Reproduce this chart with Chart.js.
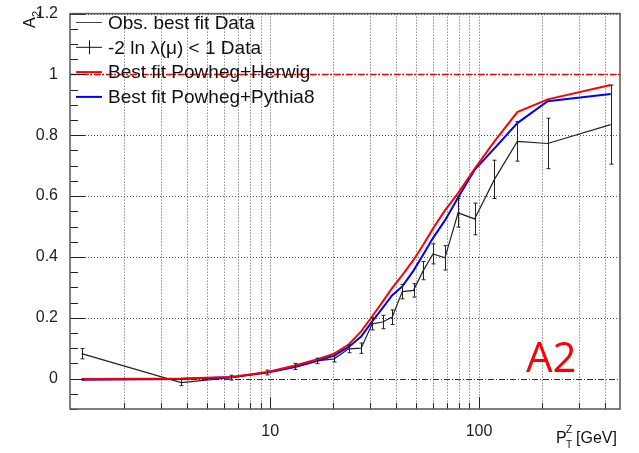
<!DOCTYPE html>
<html>
<head>
<meta charset="utf-8">
<script src="https://cdn.jsdelivr.net/npm/chart.js@4.4.1/dist/chart.umd.min.js"></script>
<style>
  html, body { margin: 0; padding: 0; background: #fff; }
  #wrap { width: 639px; height: 453px; }
</style>
</head>
<body>
<div id="wrap"><canvas id="c" width="639" height="453"></canvas></div>
<script>
// bin centres in pT(Z) [GeV]
const ptCenters = [1.25, 3.75, 6.5, 9.7, 13.15, 16.7, 20.25, 23.75, 27.25, 30.8, 34.5,
  38.4, 42.9, 48.55, 54.05, 60.15, 68.65, 79.4, 95.2, 118.5, 152.5, 213, 426.5];

const obsValues = [0.082, -0.013, 0.003, 0.02, 0.04, 0.058, 0.065, 0.098, 0.1, 0.18, 0.186,
  0.202, 0.286, 0.29, 0.355, 0.41, 0.397, 0.545, 0.525, 0.655, 0.78, 0.773, 0.835];
const obsErrors = [0.017, 0.01, 0.008, 0.008, 0.01, 0.009, 0.01, 0.013, 0.017, 0.02, 0.022,
  0.024, 0.024, 0.022, 0.03, 0.033, 0.04, 0.047, 0.052, 0.063, 0.065, 0.083, 0.13];

const herwigValues = [-0.001, 0.0, 0.005, 0.022, 0.043, 0.063, 0.082, 0.112, 0.155, 0.205, 0.252,
  0.298, 0.34, 0.39, 0.44, 0.493, 0.553, 0.61, 0.69, 0.78, 0.876, 0.918, 0.965];
const pythiaValues = [-0.004, -0.001, 0.004, 0.02, 0.038, 0.058, 0.076, 0.104, 0.138, 0.188, 0.232,
  0.274, 0.303, 0.355, 0.408, 0.462, 0.52, 0.595, 0.686, 0.757, 0.84, 0.912, 0.936];

const xTickValues = [2, 3, 4, 5, 6, 7, 8, 9, 10, 20, 30, 40, 50, 60, 70, 80, 90, 100, 200, 300, 400];
const xLabelValues = [10, 100];
const yTickValues = [0, 0.2, 0.4, 0.6, 0.8, 1, 1.2];

const legendItems = [
  { text: 'Obs. best fit Data', color: '#444', width: 1, bar: false },
  { text: '-2 ln \u03bb(\u03bc) < 1 Data', color: '#111', width: 1, bar: true },
  { text: 'Best fit Powheg+Herwig', color: '#ff0000', width: 2, bar: false },
  { text: 'Best fit Powheg+Pythia8', color: '#0000ff', width: 2, bar: false },
];

const FONT = '"Liberation Sans", Arial, Helvetica, sans-serif';
const toPts = (ys) => ptCenters.map((x, i) => ({ x, y: ys[i] }));

const rootStyle = {
  id: 'rootStyle',
  beforeDatasetsDraw(chart) {
    const { ctx, chartArea: a, scales: { x, y } } = chart;
    ctx.save();
    // dotted grid
    ctx.strokeStyle = '#555';
    ctx.lineWidth = 1;
    ctx.setLineDash([1, 2]);
    ctx.beginPath();
    xTickValues.forEach(v => {
      const px = Math.round(x.getPixelForValue(v)) + 0.5;
      ctx.moveTo(px, a.top); ctx.lineTo(px, a.bottom);
    });
    yTickValues.forEach(v => {
      if (v === 0) return;
      const py = Math.round(y.getPixelForValue(v)) + 0.5;
      ctx.moveTo(a.left, py); ctx.lineTo(a.right, py);
    });
    ctx.stroke();
    // y = 0 reference line
    ctx.strokeStyle = '#333';
    ctx.setLineDash([6, 2, 1, 2]);
    const y0 = Math.round(y.getPixelForValue(0)) + 0.5;
    ctx.beginPath();
    ctx.moveTo(a.left, y0); ctx.lineTo(a.right, y0);
    ctx.stroke();
    ctx.restore();
  },
  afterDatasetsDraw(chart) {
    const { ctx, chartArea: a, scales: { x, y } } = chart;
    ctx.save();
    // error bars
    ctx.strokeStyle = '#222';
    ctx.lineWidth = 1;
    ptCenters.forEach((pt, i) => {
      const px = Math.round(x.getPixelForValue(pt)) + 0.5;
      const top = y.getPixelForValue(obsValues[i] + obsErrors[i]);
      const bot = y.getPixelForValue(obsValues[i] - obsErrors[i]);
      ctx.beginPath();
      ctx.moveTo(px, top); ctx.lineTo(px, bot);
      ctx.moveTo(px - 2, top); ctx.lineTo(px + 2, top);
      ctx.moveTo(px - 2, bot); ctx.lineTo(px + 2, bot);
      ctx.stroke();
    });
    // y = 1 reference line
    ctx.strokeStyle = '#ff0000';
    ctx.lineWidth = 1.5;
    ctx.setLineDash([6, 2, 2, 2]);
    const y1 = Math.round(y.getPixelForValue(1)) + 0.5;
    ctx.beginPath();
    ctx.moveTo(a.left, y1); ctx.lineTo(a.right, y1);
    ctx.stroke();
    ctx.setLineDash([]);

    // inside ticks
    ctx.strokeStyle = '#222';
    ctx.lineWidth = 1;
    ctx.beginPath();
    for (let v = -0.1; v <= 1.2001; v += 0.05) {
      const py = Math.round(y.getPixelForValue(v)) + 0.5;
      const major = Math.abs(Math.round(v * 5) - v * 5) < 1e-6;
      ctx.moveTo(a.left, py); ctx.lineTo(a.left + (major ? 15 : 8), py);
    }
    xTickValues.forEach(v => {
      const px = Math.round(x.getPixelForValue(v)) + 0.5;
      const major = xLabelValues.includes(v);
      ctx.moveTo(px, a.bottom); ctx.lineTo(px, a.bottom - (major ? 12 : 6));
    });
    ctx.stroke();

    // frame
    ctx.strokeStyle = '#555';
    ctx.lineWidth = 1.5;
    ctx.strokeRect(a.left, a.top, a.right - a.left, a.bottom - a.top);
    ctx.restore();
  },
  afterDraw(chart) {
    const { ctx } = chart;
    ctx.save();
    // legend
    ctx.font = '19px ' + FONT;
    ctx.textBaseline = 'middle';
    legendItems.forEach((it, i) => {
      const ry = 22.5 + i * 24.8;
      ctx.strokeStyle = it.color;
      ctx.lineWidth = it.width;
      ctx.beginPath();
      ctx.moveTo(76, ry); ctx.lineTo(102, ry);
      if (it.bar) { ctx.moveTo(89.5, ry - 7); ctx.lineTo(89.5, ry + 7); }
      ctx.stroke();
      ctx.fillStyle = '#111';
      ctx.fillText(it.text, 108, ry + 1);
    });

    // big label
    ctx.fillStyle = '#ff0000';
    ctx.font = '42px "Open Sans", ' + FONT;
    ctx.textBaseline = 'alphabetic';
    ctx.fillText('A2', 526, 372);

    // y title: A_2 (rotated)
    ctx.fillStyle = '#111';
    ctx.translate(35, 28);
    ctx.rotate(-Math.PI / 2);
    ctx.font = '16px ' + FONT;
    ctx.fillText('A', 0, 0);
    ctx.font = '11px ' + FONT;
    ctx.fillText('2', 11, 5);
    ctx.setTransform(1, 0, 0, 1, 0, 0);

    // x title: P_T^Z [GeV]
    ctx.font = '16px ' + FONT;
    ctx.fillText('P', 556, 443);
    ctx.font = '10px ' + FONT;
    ctx.fillText('Z', 566, 433);
    ctx.fillText('T', 566, 448);
    ctx.font = '16px ' + FONT;
    ctx.fillText('[GeV]', 576, 443);
    ctx.restore();
  },
};

new Chart(document.getElementById('c').getContext('2d'), {
  type: 'line',
  data: {
    datasets: [
      { label: 'Best fit Powheg+Herwig', data: toPts(herwigValues), borderColor: '#ff0000', borderWidth: 2 },
      { label: 'Best fit Powheg+Pythia8', data: toPts(pythiaValues), borderColor: '#0000ff', borderWidth: 2 },
      { label: 'Obs. best fit Data', data: toPts(obsValues), borderColor: '#222', borderWidth: 1.2 },
    ],
  },
  options: {
    responsive: false,
    animation: false,
    events: [],
    elements: { point: { radius: 0 }, line: { tension: 0, fill: false } },
    layout: { padding: { top: 11, right: 19, left: 0, bottom: 0 } },
    plugins: { legend: { display: false }, tooltip: { enabled: false } },
    scales: {
      x: {
        type: 'logarithmic',
        min: 1.1,
        max: 473,
        afterBuildTicks: (s) => { s.ticks = xTickValues.map(v => ({ value: v })); },
        afterFit: (s) => { s.height = 44; },
        ticks: {
          autoSkip: false,
          maxRotation: 0,
          padding: 5,
          color: '#222',
          font: { family: FONT, size: 16 },
          callback: (v) => (xLabelValues.includes(v) ? String(v) : ''),
        },
        grid: { display: false },
        border: { display: false },
      },
      y: {
        min: -0.1,
        max: 1.2,
        afterBuildTicks: (s) => { s.ticks = yTickValues.map(v => ({ value: v })); },
        afterFit: (s) => { s.width = 70; },
        ticks: {
          padding: 4,
          color: '#222',
          font: { family: FONT, size: 16 },
          callback: (v) => String(Math.round(v * 10) / 10),
        },
        grid: { display: false },
        border: { display: false },
      },
    },
  },
  plugins: [rootStyle],
});
</script>
</body>
</html>
